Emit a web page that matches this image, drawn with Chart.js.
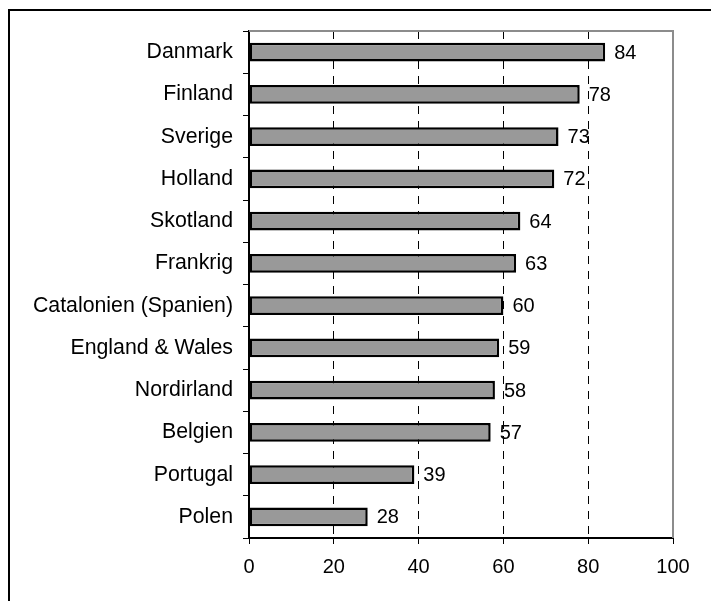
<!DOCTYPE html>
<html>
<head>
<meta charset="utf-8">
<script src="https://cdn.jsdelivr.net/npm/chart.js@4"></script>
<style>
  html, body { margin: 0; padding: 0; background: #fff; }
  #wrap { position: relative; width: 711px; height: 601px; overflow: hidden; }
  #frame { position: absolute; left: 8px; top: 9px; width: 800px; height: 700px; border: 2px solid #000; box-sizing: border-box; }
  canvas { position: absolute; left: 0; top: 0; }
</style>
</head>
<body>
<div id="wrap">
  <div id="frame"></div>
  <canvas id="c" width="711" height="601"></canvas>
</div>
<script>
const categories = ["Danmark", "Finland", "Sverige", "Holland", "Skotland", "Frankrig",
  "Catalonien (Spanien)", "England & Wales", "Nordirland", "Belgien", "Portugal", "Polen"];
const values = [84, 78, 73, 72, 64, 63, 60, 59, 58, 57, 39, 28];
const xTicks = [0, 20, 40, 60, 80, 100];

const FONT = "'Liberation Sans', Arial, sans-serif";

const valueLabels = {
  id: 'valueLabels',
  afterDatasetsDraw(chart) {
    const ctx = chart.ctx;
    const meta = chart.getDatasetMeta(0);
    ctx.save();
    ctx.font = '20px ' + FONT;
    ctx.fillStyle = '#000';
    ctx.textAlign = 'left';
    ctx.textBaseline = 'middle';
    meta.data.forEach((bar, i) => {
      ctx.fillText(String(values[i]), bar.x + 9, bar.y + 1);
    });
    ctx.restore();
  }
};

const plotBorder = {
  id: 'plotBorder',
  beforeDatasetsDraw(chart) {
    const a = chart.chartArea;
    const ctx = chart.ctx;
    ctx.save();
    ctx.strokeStyle = '#8c8c8c';
    ctx.lineWidth = 2;
    ctx.beginPath();
    ctx.moveTo(a.left, a.top);
    ctx.lineTo(a.right, a.top);
    ctx.lineTo(a.right, a.bottom);
    ctx.stroke();
    ctx.restore();
  }
};

new Chart(document.getElementById('c'), {
  type: 'bar',
  data: {
    labels: categories,
    datasets: [{
      data: values,
      backgroundColor: '#999999',
      borderColor: '#000000',
      borderWidth: 2.5,
      borderSkipped: false,
      barPercentage: 0.44,
      categoryPercentage: 1.0
    }]
  },
  options: {
    indexAxis: 'y',
    responsive: false,
    animation: false,
    devicePixelRatio: 1,
    layout: { padding: { top: 31, right: 38, bottom: 0, left: 0 } },
    plugins: { legend: { display: false }, tooltip: { enabled: false } },
    scales: {
      x: {
        min: 0, max: 100,
        afterBuildTicks(axis) { axis.ticks = xTicks.map(v => ({ value: v })); },
        afterFit(axis) { axis.height = 63; },
        border: { display: true, color: '#000', width: 2, dash: [8, 7] },
        grid: {
          drawOnChartArea: true,
          drawTicks: true,
          tickLength: 6,
          tickColor: '#000',
          tickBorderDash: [],
          color: ctx => (ctx.tick && (ctx.tick.value === 0 || ctx.tick.value === 100)) ? 'rgba(0,0,0,0)' : '#000',
          lineWidth: 1
        },
        ticks: {
          color: '#000',
          font: { family: FONT, size: 20 },
          padding: 11,
          maxRotation: 0
        }
      },
      y: {
        offset: true,
        afterFit(axis) { axis.width = 249; },
        border: { display: true, color: '#000', width: 2 },
        grid: {
          offset: true,
          drawOnChartArea: false,
          drawTicks: true,
          tickLength: 6,
          color: '#000',
          tickColor: '#000'
        },
        ticks: {
          color: '#000',
          font: { family: FONT, size: 21.3 },
          padding: 10
        }
      }
    }
  },
  plugins: [plotBorder, valueLabels]
});
</script>
</body>
</html>
